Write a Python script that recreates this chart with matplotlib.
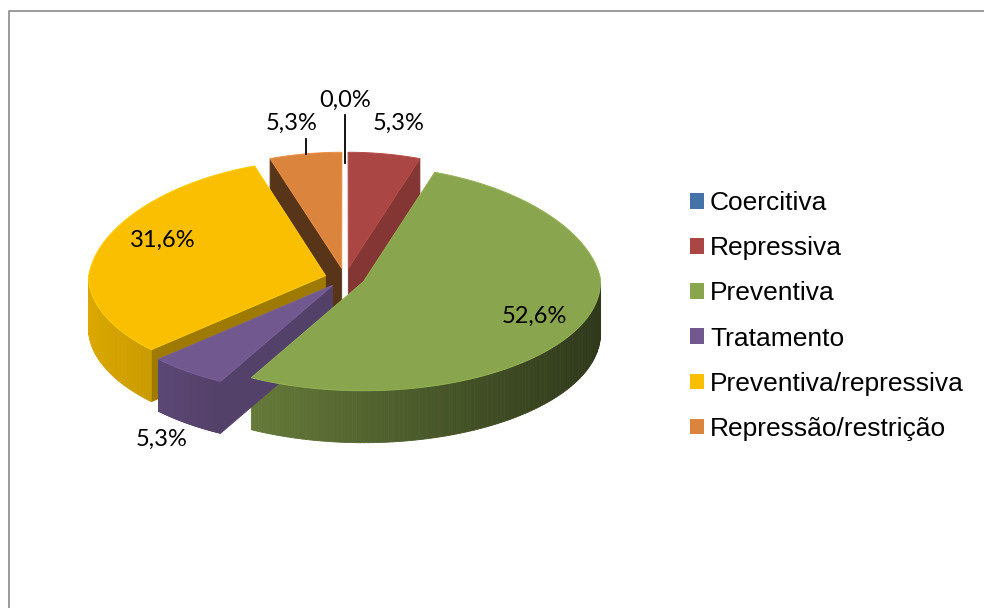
import numpy as np
import matplotlib.pyplot as plt
from matplotlib.patches import Polygon, Patch
from matplotlib.colors import to_rgb

# data
categories = ['Coercitiva', 'Repressiva', 'Preventiva', 'Tratamento',
              'Preventiva/repressiva', 'Repressão/restrição']
values = [0.0, 5.3, 52.6, 5.3, 31.6, 5.3]
colors = ['#4572A7', '#AA4643', '#89A54E', '#71588F', '#F9BF00', '#DB843D']

# layout of the 3d pie (pixels)
cx, cy = 345, 278
rx = 237
ry_back, ry_front = 116, 109   # back half looks a bit taller than the front half
kx = 0.07                      # back half slightly narrower (perspective)
depth = 52
explode = 0.085
label_r = [1.45, 1.27, 0.785, 1.18, 0.75, 1.27]
label_turn = [0, 0, 0, 0, -10, 0]   # degrees


def to_px(X, Y, h=1.0, persp=True):
    ryy = ry_back if Y > 0 else ry_front
    sx = 1 - kx * max(Y, 0) if persp else 1
    return cx + rx * X * sx, cy - ryy * Y + depth * (1 - h)


def shade(c, f):
    return tuple(min(1, v * f) for v in to_rgb(c))


fig = plt.figure(figsize=(9.84, 6.08), dpi=100)
ax = fig.add_axes([0, 0, 1, 1])
ax.set_xlim(0, 984)
ax.set_ylim(608, 0)
ax.axis('off')

total = sum(values)
cum = np.cumsum([0] + values) / total
slices = []
for i, v in enumerate(values):
    t1 = np.radians(90 - 360 * cum[i])
    t2 = np.radians(90 - 360 * cum[i + 1])
    mid = (t1 + t2) / 2
    off = (explode * np.cos(mid), explode * np.sin(mid))
    slices.append((i, t1, t2, mid, off))

# side faces, back to front
sides = []
for i, t1, t2, mid, off in slices:
    if values[i] == 0:
        continue
    # radial cut faces
    for th, sgn in ((t1, 1), (t2, -1)):
        nx, ny = -sgn * np.sin(th), sgn * np.cos(th)
        if ny < 0:
            f = 0.3 + 0.5 * nx if nx > 0 else 0.4
            X0, Y0 = off
            X1, Y1 = off[0] + np.cos(th), off[1] + np.sin(th)
            quad = [to_px(X0, Y0), to_px(X1, Y1), to_px(X1, Y1, 0), to_px(X0, Y0, 0)]
            sides.append((np.sin(mid), quad, shade(colors[i], f)))
    # outer wall, with a left-to-right gradient
    ths = np.linspace(t1, t2, 200)
    for a, b in zip(ths[:-1], ths[1:]):
        m = (a + b) / 2
        if np.sin(m) >= 0:
            continue
        Xa, Ya = off[0] + np.cos(a), off[1] + np.sin(a)
        Xb, Yb = off[0] + np.cos(b), off[1] + np.sin(b)
        quad = [to_px(Xa, Ya), to_px(Xb, Yb), to_px(Xb, Yb, 0), to_px(Xa, Ya, 0)]
        f = 0.61 - 0.27 * np.cos(m)
        sides.append((np.sin(mid), quad, shade(colors[i], f)))

for _, quad, c in sorted(sides, key=lambda s: -s[0]):
    ax.add_patch(Polygon(quad, closed=True, facecolor=c, edgecolor=c, lw=0.6))

# top faces
for i, t1, t2, mid, off in slices:
    if values[i] == 0:
        continue
    ths = np.linspace(t1, t2, 200)
    pts = [to_px(*off)] + [to_px(off[0] + np.cos(t), off[1] + np.sin(t)) for t in ths]
    ax.add_patch(Polygon(pts, closed=True, facecolor=colors[i],
                         edgecolor=shade(colors[i], 1.08), lw=0.7))

# data labels
lab_font = dict(family=['Lato', 'DejaVu Sans'], size=17, color='black')
for i, t1, t2, mid, off in slices:
    a = mid + np.radians(label_turn[i])
    X = off[0] + label_r[i] * np.cos(a)
    Y = off[1] + label_r[i] * np.sin(a)
    lx, ly = to_px(X, Y, 0 if (Y < 0 and label_r[i] > 1) else 1, persp=False)
    txt = f'{values[i]:.1f}%'.replace('.', ',')
    ax.text(lx, ly, txt, ha='center', va='center', **lab_font)
    # leader lines for labels sitting above the pie
    if i == 0:
        ax.plot([lx, lx], [ly + 15, cy - ry_back + 1], color='black', lw=1.3)
    if i == 5:
        xl = lx + 14
        dx = (xl - cx) / (rx * (1 - kx)) - off[0]
        ye = cy - ry_back * (off[1] + np.sqrt(1 - dx ** 2))
        ax.plot([xl, xl], [ly + 16, ye], color='black', lw=1.3)

# chart border
ax.plot([8.5, 8.5, 1000], [640, 10.5, 10.5], color='#8A8A8A', lw=1.2, clip_on=False)

# legend
handles = [Patch(facecolor=c, edgecolor='none', label=l) for c, l in zip(colors, categories)]
ax.legend(handles=handles, loc='center left', bbox_to_anchor=(690 / 984, 1 - 316 / 608),
          frameon=False, prop=dict(family='Liberation Sans', size=19),
          handlelength=0.53, handleheight=0.53, handletextpad=0.23,
          labelspacing=0.80, borderpad=0, borderaxespad=0)

fig.savefig('out.png', dpi=100)
